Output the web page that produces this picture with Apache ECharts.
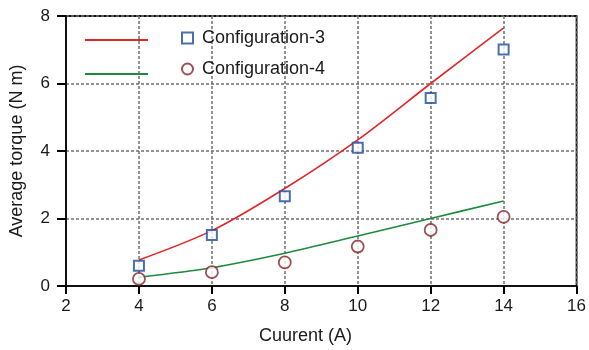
<!DOCTYPE html>
<html>
<head>
<meta charset="utf-8">
<script src="https://cdn.jsdelivr.net/npm/echarts@6/dist/echarts.min.js"></script>
<style>
  html, body { margin: 0; padding: 0; background: #fff; }
  #chart { width: 589px; height: 350px; }
</style>
</head>
<body>
<div id="chart"></div>
<script>
// Current values (A)
const current = [4, 6, 8, 10, 12, 14];
// Measured average torque (N m)
const config3 = [0.60, 1.51, 2.66, 4.10, 5.57, 7.01];
const config4 = [0.21, 0.41, 0.70, 1.17, 1.66, 2.05];
// Predicted torque curves (N m)
const curve3 = [0.77, 1.64, 2.89, 4.33, 6.00, 7.65];
const curve4 = [0.26, 0.54, 0.97, 1.48, 2.00, 2.52];
// Axis ticks
const xTicks = [2, 4, 6, 8, 10, 12, 14, 16];
const yTicks = [0, 2, 4, 6, 8];

const pairs = (xs, ys) => xs.map((x, i) => [x, ys[i]]);
const FONT = 'Liberation Sans, Arial, sans-serif';
const TXT = '#1a1a1a';

const chart = echarts.init(document.getElementById('chart'), null, { renderer: 'canvas' });

const gridLine = { show: true, lineStyle: { color: '#707070', type: [3, 2], width: 1.5 } };

chart.setOption({
  animation: false,
  backgroundColor: '#fff',
  grid: { left: 66, right: 10, top: 16, bottom: 64, show: true, borderColor: '#111', borderWidth: 1.8, backgroundColor: 'transparent' },
  xAxis: {
    type: 'value',
    min: xTicks[0], max: xTicks[xTicks.length - 1], interval: 2,
    axisLine: { show: true, onZero: false, lineStyle: { color: '#111', width: 2 } },
    axisTick: { show: true, length: 8, lineStyle: { color: '#000', width: 2 } },
    axisLabel: { color: TXT, fontSize: 17, fontFamily: FONT, margin: 12 },
    splitLine: gridLine
  },
  yAxis: {
    type: 'value',
    min: yTicks[0], max: yTicks[yTicks.length - 1], interval: 2,
    name: 'Average torque (N m)',
    nameLocation: 'middle',
    nameGap: 40,
    nameTextStyle: { color: TXT, fontSize: 18, fontFamily: FONT },
    axisLine: { show: true, onZero: false, lineStyle: { color: '#111', width: 2 } },
    axisTick: { show: true, length: 9, lineStyle: { color: '#000', width: 2 } },
    axisLabel: { color: TXT, fontSize: 17, fontFamily: FONT, margin: 16 },
    splitLine: gridLine
  },
  legend: [
    {
      data: [{ name: 'Curve-3', icon: 'rect' }, { name: 'Curve-4', icon: 'rect' }],
      orient: 'vertical',
      left: 80, top: 34,
      itemWidth: 63, itemHeight: 2, itemGap: 32,
      formatter: () => '',
      selectedMode: false
    },
    {
      data: ['Configuration-3', 'Configuration-4'],
      orient: 'vertical',
      left: 176, top: 24,
      itemWidth: 11, itemHeight: 11, itemGap: 13,
      textStyle: { color: TXT, fontSize: 18, fontFamily: FONT, padding: [0, 0, 0, 4] },
      selectedMode: false
    }
  ],
  graphic: [
    {
      type: 'text',
      left: 259, top: 327,
      style: { text: 'Cuurent (A)', fill: TXT, font: '18px ' + FONT }
    }
  ],
  series: [
    {
      name: 'Curve-3', type: 'line', smooth: 0.3, symbol: 'none', z: 3,
      data: pairs(current, curve3),
      lineStyle: { color: '#e3262b', width: 1.6 },
      itemStyle: { color: '#e3262b' }
    },
    {
      name: 'Curve-4', type: 'line', smooth: 0.3, symbol: 'none', z: 3,
      data: pairs(current, curve4),
      lineStyle: { color: '#1f8a3f', width: 1.6 },
      itemStyle: { color: '#1f8a3f' }
    },
    {
      name: 'Configuration-3', type: 'scatter', symbol: 'rect', symbolSize: 10, z: 4,
      data: pairs(current, config3),
      itemStyle: { color: '#fff', borderColor: '#1d4b9c', borderWidth: 2 }
    },
    {
      name: 'Configuration-4', type: 'scatter', symbol: 'circle', symbolSize: 12, z: 4,
      data: pairs(current, config4),
      itemStyle: { color: '#fff', borderColor: '#86262b', borderWidth: 1.8 }
    }
  ]
});
</script>
</body>
</html>
